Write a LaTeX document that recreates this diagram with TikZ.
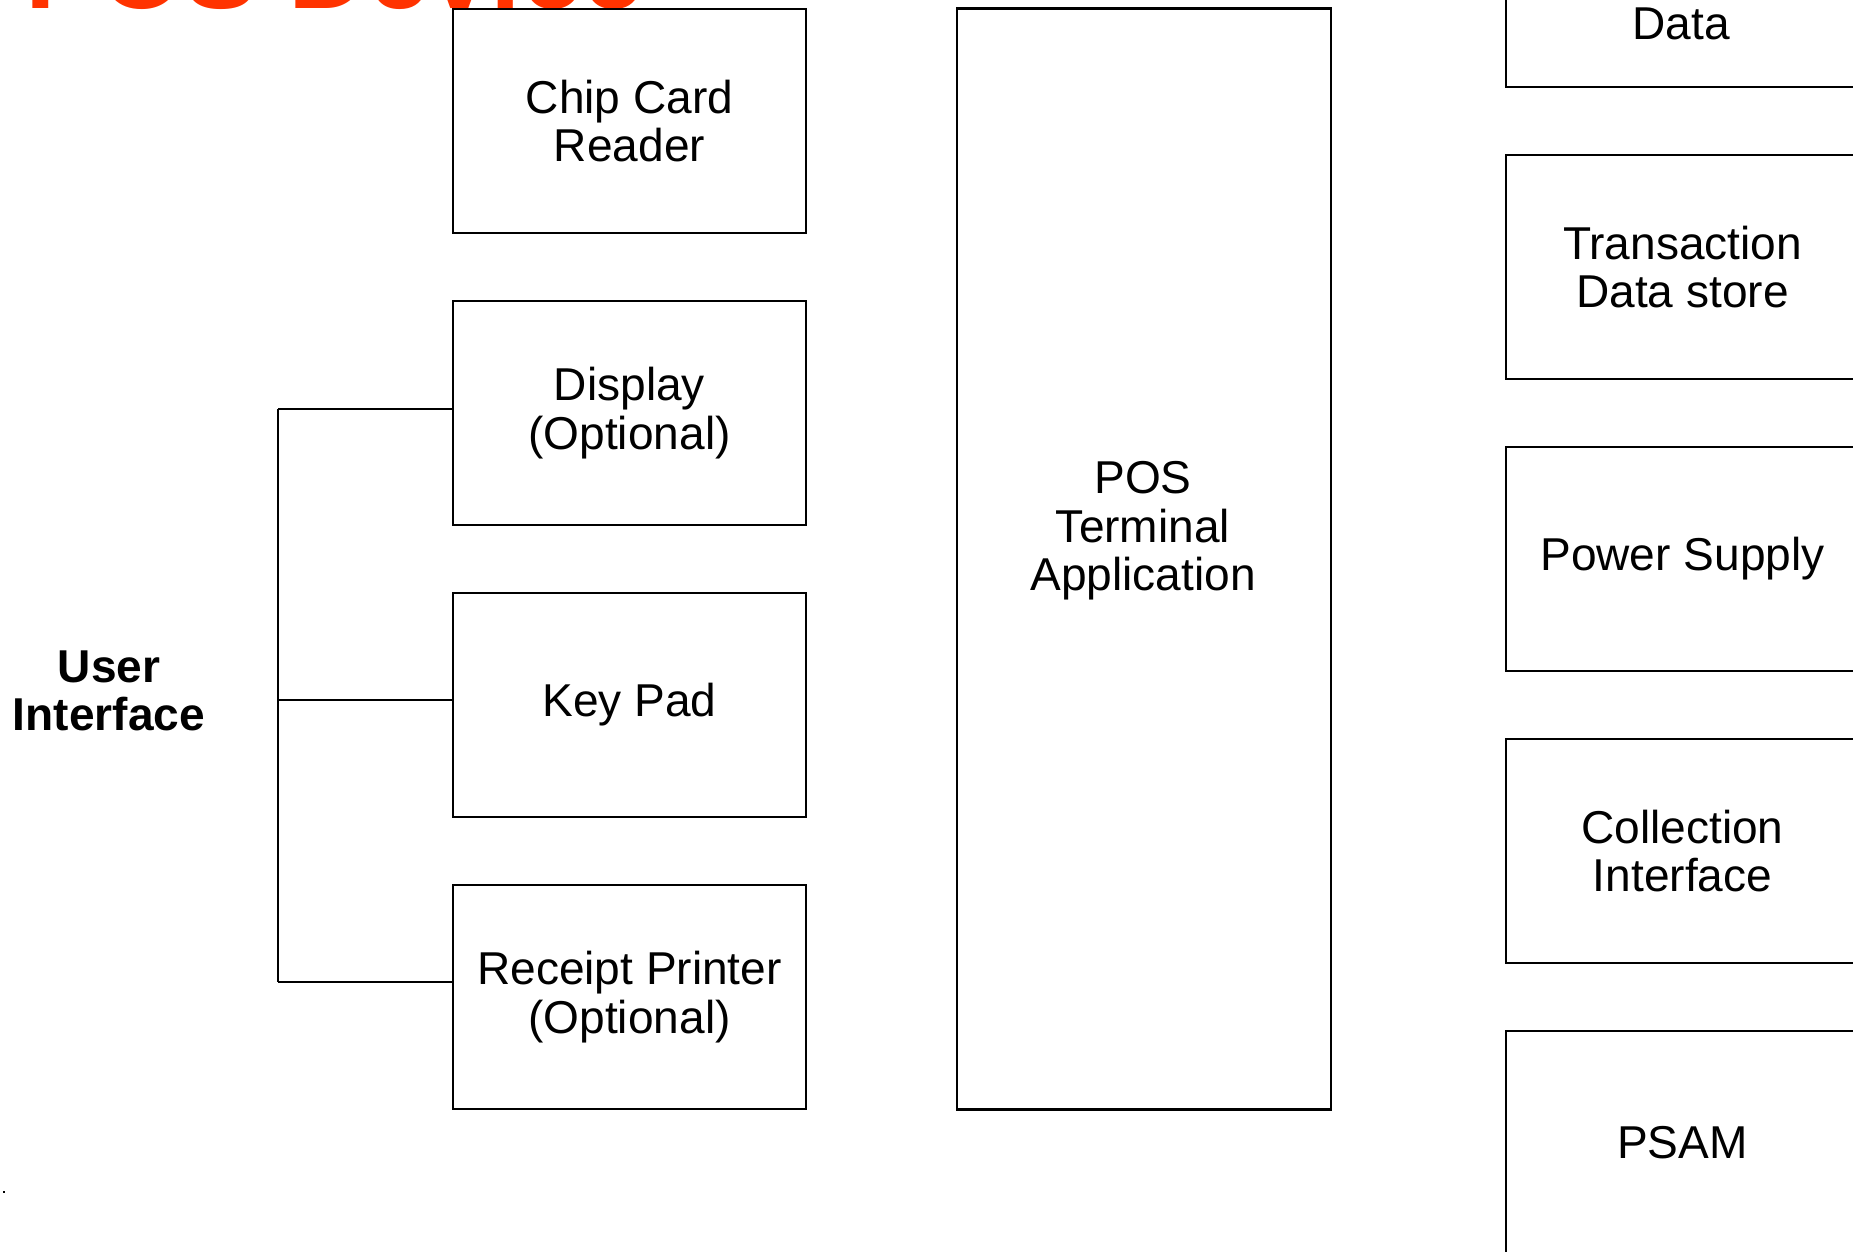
\documentclass[tikz,border=0pt]{standalone}
\usepackage{fontspec}
\setmainfont{Liberation Sans}
\usetikzlibrary{positioning}
\definecolor{titleorange}{RGB}{255,51,0}
\tikzset{
  box/.style={draw, line width=0.75pt, minimum width=3.53cm, minimum height=2.24cm,
    inner sep=0pt, align=center, font=\fontsize{13.1}{13.8}\selectfont},
  lbl/.style={align=center, inner sep=0pt, font=\fontsize{13.1}{13.8}\selectfont},
  bus/.style={line width=0.75pt},
}
\begin{document}
\begin{tikzpicture}[x=0.01cm, y=-0.01cm]
  \useasboundingbox (0,0) rectangle (1853,1252);
  \clip (0,0) rectangle (1853,1252);
  % title, cut off at the top
  \node[anchor=base west, inner sep=0pt, text=titleorange,
    font=\fontsize{31.3}{36}\selectfont\bfseries] (title) at (25,9) {POS Device};
  % left column
  \node[box] (ccr) at (629.5,121) {Chip Card\\Reader};
  \node[box, below=0.652cm of ccr] (disp) {Display\\(Optional)};
  \node[box, below=0.652cm of disp] (keypad) {Key Pad};
  \node[box, below=0.652cm of keypad] (printer) {Receipt Printer\\(Optional)};
  % user interface bracket
  \node[lbl, font=\fontsize{13.1}{13.8}\selectfont\bfseries] (ui) at (109,691) {User\\Interface};
  \coordinate (bustop) at (278,409);
  \coordinate (busmid) at (278,700);
  \coordinate (busbot) at (278,982);
  \draw[bus] (bustop) -- (busbot);
  \draw[bus] (bustop) -- (bustop -| disp.west);
  \draw[bus] (busmid) -- (busmid -| keypad.west);
  \draw[bus] (busbot) -- (busbot -| printer.west);
  % application
  \node[box, minimum width=3.74cm, minimum height=11cm] (app) at (1144,559) {};
  \node[lbl] (applbl) at (1143,531) {POS\\Terminal\\Application};
  % right column, cut off at the edge
  \node[box] (data) at (1682.5,-25) {};
  \node[lbl] (datalbl) at (1681,24) {Data};
  \node[box, below=0.652cm of data] (store) {Transaction\\Data store};
  \node[box, below=0.652cm of store] (power) {Power Supply};
  \node[box, below=0.652cm of power] (coll) {Collection\\Interface};
  \node[box, below=0.652cm of coll] (psam) {PSAM};
  \fill (3,1191) rectangle (5,1193);
\end{tikzpicture}
\end{document}
